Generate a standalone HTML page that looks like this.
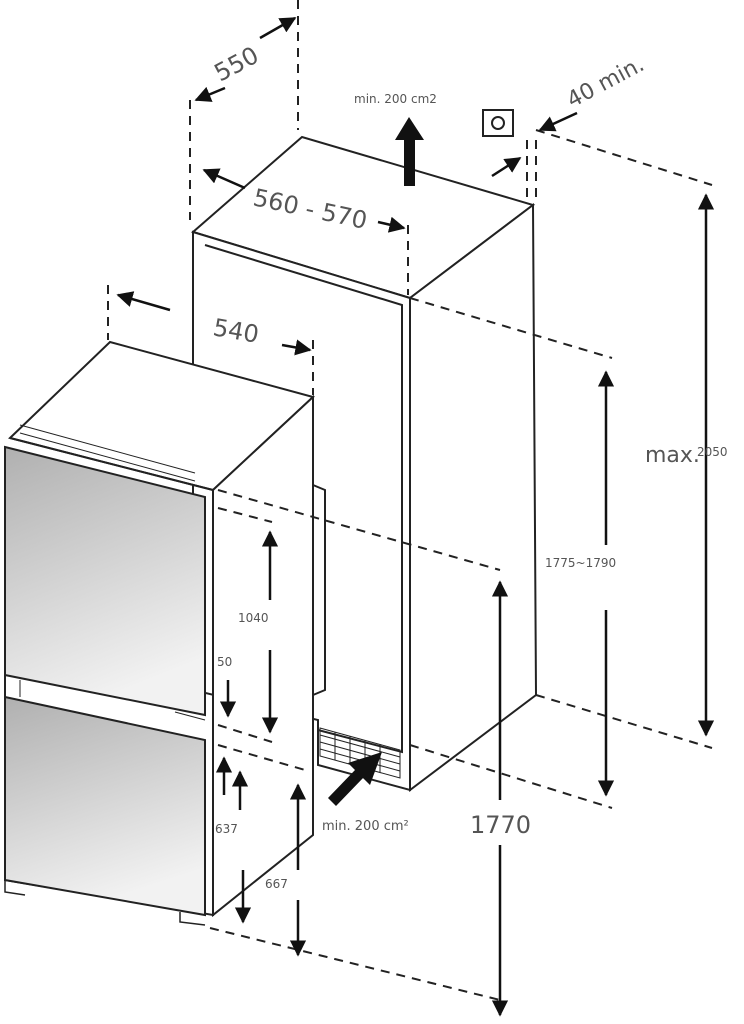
<!DOCTYPE html>
<html><head><meta charset="utf-8"><style>
html,body{margin:0;padding:0;background:#fff;}
svg{display:block;}
text{font-family:"DejaVu Sans","Liberation Sans",sans-serif;fill:#555;}
</style></head><body>
<svg width="744" height="1024" viewBox="0 0 744 1024" xmlns="http://www.w3.org/2000/svg">
<defs>
<marker id="a" viewBox="0 0 10 10" refX="9" refY="5" markerWidth="6.5" markerHeight="6.5" orient="auto-start-reverse"><path d="M0,0L10,5L0,10z" fill="#111"/></marker>
<linearGradient id="g" x1="0" y1="0" x2="0.3" y2="1"><stop offset="0" stop-color="#b0b0b0"/><stop offset="1" stop-color="#f2f2f2"/></linearGradient>
</defs>
<g stroke="#222" stroke-width="2" fill="none">
<path d="M193,232 L302,137 L533,205 L410,298 Z" fill="#fff"/>
<path d="M410,298 L533,205 L536,695 L410,790 Z" fill="#fff"/>
<path d="M193,232 L410,298 L410,790 L318,765 L318,720 L193,690 Z" fill="#fff"/>
<path d="M205,245 L402,305 L402,752 L318,730"/>
<g stroke-width="1">
<path d="M320,728 L400,750 L400,778 L320,756 Z"/>
<path d="M320,735 L400,757 M320,742 L400,764 M320,749 L400,771"/>
<path d="M335,732 L335,760 M350,736 L350,764 M365,740 L365,768 M380,744 L380,772"/>
</g>
<path d="M10,438 L110,342 L313,397 L213,490 Z" fill="#fff"/>
<path d="M213,490 L313,397 L313,835 L213,915 Z" fill="#fff"/>
<path d="M313,485 L325,490 L325,690 L313,695"/>
<path d="M10,438 L213,490 L213,915 L5,880 L5,447"/>
<path d="M20,425 L195,473 M20,433 L195,481" stroke-width="1"/>
<path d="M5,447 L205,497 L205,715 L5,675 Z" fill="url(#g)"/>
<path d="M5,697 L205,740 L205,915 L5,880 Z" fill="url(#g)"/>
<path d="M20,680 L20,697 M175,712 L205,720" stroke-width="1"/>
<path d="M5,880 L5,892 L25,895 M180,912 L180,922 L205,925" stroke-width="1.5"/>
</g>
<g stroke="#222" stroke-width="2" stroke-dasharray="9,7" fill="none">
<path d="M298,0 L298,130"/>
<path d="M190,100 L190,220"/>
<path d="M408,225 L408,295"/>
<path d="M108,285 L108,340"/>
<path d="M313,340 L313,395"/>
<path d="M527,140 L527,200 M536,140 L536,200"/>
<path d="M536,130 L712,185"/>
<path d="M410,298 L612,358"/>
<path d="M536,695 L712,748"/>
<path d="M410,745 L612,808"/>
<path d="M218,490 L500,570"/>
<path d="M218,508 L272,522"/>
<path d="M218,725 L272,742"/>
<path d="M218,745 L305,770"/>
<path d="M210,928 L500,1000"/>
</g>
<g stroke="#111" stroke-width="2.5" fill="none" marker-end="url(#a)">
<path d="M260,38 L295,18"/>
<path d="M225,88 L196,100"/>
<path d="M245,188 L204,170"/>
<path d="M378,222 L404,228"/>
<path d="M170,310 L118,295"/>
<path d="M282,345 L310,350"/>
<path d="M577,113 L540,130"/>
<path d="M492,176 L520,158"/>
<path d="M706,470 L706,195"/><path d="M706,470 L706,735"/>
<path d="M606,545 L606,372"/><path d="M606,610 L606,795"/>
<path d="M500,800 L500,582"/><path d="M500,845 L500,1015"/>
<path d="M270,600 L270,532"/><path d="M270,650 L270,732"/>
<path d="M228,680 L228,716"/>
<path d="M224,795 L224,758"/>
<path d="M240,810 L240,772"/>
<path d="M243,870 L243,922"/>
<path d="M298,870 L298,785"/>
<path d="M298,900 L298,955"/>
</g>
<path d="M404,186 L404,140 L395,140 L409,117 L424,140 L415,140 L415,186 Z" fill="#111"/>
<path d="M328,798 L355,770 L348,763 L382,752 L370,785 L363,778 L336,806 Z" fill="#111"/>
<rect x="483" y="110" width="30" height="26" fill="#fff" stroke="#222" stroke-width="2"/>
<circle cx="498" cy="123" r="6" fill="none" stroke="#222" stroke-width="2"/>
<text x="220" y="82" font-size="24" transform="rotate(-28 220 82)">550</text>
<text x="252" y="205" font-size="24" transform="rotate(12 252 205)">560 - 570</text>
<text x="212" y="335" font-size="24" transform="rotate(10 212 335)">540</text>
<text x="354" y="103" font-size="12">min. 200 cm2</text>
<text x="572" y="108" font-size="22" transform="rotate(-28 572 108)">40 min.</text>
<text x="645" y="462" font-size="22">max.</text>
<text x="697" y="456" font-size="12">2050</text>
<text x="545" y="567" font-size="12">1775~1790</text>
<text x="470" y="833" font-size="24">1770</text>
<text x="238" y="622" font-size="12">1040</text>
<text x="217" y="666" font-size="12">50</text>
<text x="215" y="833" font-size="12">637</text>
<text x="265" y="888" font-size="12">667</text>
<text x="322" y="830" font-size="13">min. 200 cm²</text>
</svg>
</body></html>
